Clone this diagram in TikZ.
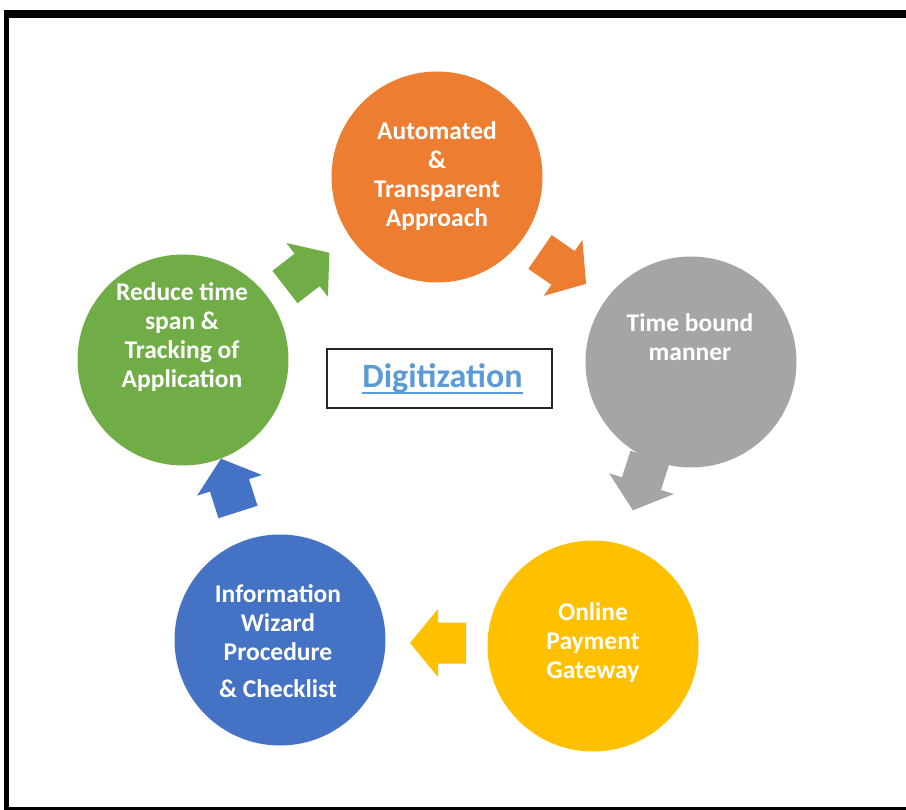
\documentclass[tikz,border=0pt]{standalone}
\usepackage{fontspec}
\setmainfont{Carlito}
\definecolor{corange}{HTML}{ED7D31}
\definecolor{cgrey}{HTML}{A5A5A5}
\definecolor{cyellow}{HTML}{FFC000}
\definecolor{cblue}{HTML}{4472C4}
\definecolor{cgreen}{HTML}{70AD47}
\definecolor{digblue}{HTML}{5B9BD5}
\tikzset{
  disc/.style={circle, inner sep=0pt, minimum size=211pt, draw=none},
  ctext/.style={text=white, font=\fontsize{25.5}{29}\selectfont\bfseries, align=center, inner sep=0pt},
  blockarrow/.pic={\fill[#1] (0,-20.5) -- (28,-20.5) -- (28,-34) -- (56,0) -- (28,34) -- (28,20.5) -- (0,20.5) -- cycle;}
}
\begin{document}
\begin{tikzpicture}[x=1pt,y=-1pt]
\useasboundingbox (0,0) rectangle (906,810);
% frame
\fill[black] (4,10) rectangle (906,18);
\fill[black] (4,10) rectangle (9,810);
\fill[black] (4,807) rectangle (906,810);
% circles
\node[disc, fill=corange] (auto) at (437,177) {};
\node[disc, fill=cgrey] (time) at (691,362) {};
\node[disc, fill=cyellow] (pay) at (593,646) {};
\node[disc, fill=cblue] (info) at (280,640) {};
\node[disc, fill=cgreen] (red) at (183,360) {};
% arrows
\coordinate (a1) at (285,287);
\coordinate (a2) at (540,252);
\coordinate (a3) at (650,457);
\coordinate (a4) at (466,643);
\coordinate (a5) at (238,512);
\pic[rotate=37.7] at (a1) {blockarrow=cgreen};
\pic[rotate=-34.6] at (a2) {blockarrow=corange};
\pic[rotate=-107.8] at (a3) {blockarrow=cgrey};
\pic[rotate=180] at (a4) {blockarrow=cyellow};
\pic[rotate=107.7] at (a5) {blockarrow=cblue};
% texts
\node[ctext] (t-auto) at (437,176) {Automated\\\&\\Transparent\\Approach};
\node[ctext] (t-time) at (690,337) {Time bound\\manner};
\node[ctext] (t-pay) at (593,643) {Online\\Payment\\Gateway};
\node[ctext] (t-info) at (278,641) {Information\\Wizard\\Procedure\\[8pt]\& Checklist};
\node[ctext] (t-red) at (182,337) {Reduce time\\span \&\\Tracking of\\Application};
% central box
\node[draw=black!85, line width=1.3pt, minimum width=225pt, minimum height=59pt, inner sep=0pt] (box) at (439.5,378.5) {};
\node[anchor=base, inner sep=0pt, text=digblue, font=\fontsize{34}{40}\selectfont\bfseries] (dig) at (442.5,388) {Digitization};
\draw[digblue, line width=2.2pt] ([yshift=-5pt]dig.base west) -- ([yshift=-5pt]dig.base east);
\end{tikzpicture}
\end{document}
